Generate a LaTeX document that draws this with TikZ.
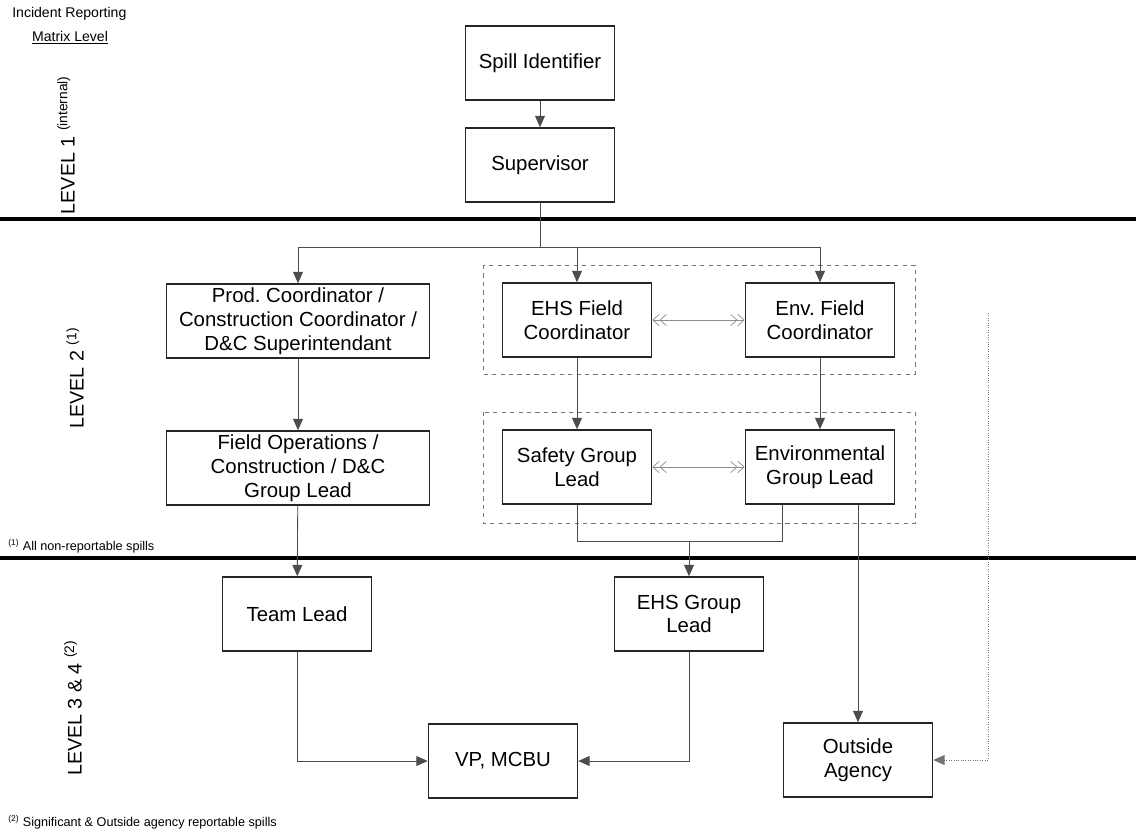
\documentclass[tikz,border=0pt]{standalone}
\usepackage{fontspec}
\setmainfont{Liberation Sans}
\usetikzlibrary{arrows.meta,calc}
\frenchspacing

\begin{document}
\begin{tikzpicture}[x=0.025cm,y=-0.025cm,
    box/.style={draw=black!85,line width=1.1pt,fill=white,align=center,
        minimum width=3.725cm,minimum height=1.85cm,inner sep=2pt,
        font=\fontsize{14.5}{17}\selectfont},
    widebox/.style={box,minimum width=6.575cm},
    lvl/.style={rotate=90,font=\fontsize{14}{16}\selectfont},
    note/.style={anchor=west,inner sep=0pt,font=\fontsize{9}{11}\selectfont},
    link/.style={draw=black!70,line width=0.6pt,-{Triangle[length=8pt,width=7pt]}},
    twoway/.style={draw=black!45,line width=0.5pt,>={Straight Barb[length=4.5pt,width=8pt]},<<->>},
    dotlink/.style={draw=black!55,line width=0.7pt,densely dotted,-{Triangle[length=8pt,width=7pt]}},
    group/.style={draw=black!55,line width=0.6pt,dash pattern=on 3pt off 3pt}]
    \useasboundingbox (0,0) rectangle (1136,837);

    \node[anchor=west,inner sep=0pt,font=\fontsize{10}{12}\selectfont] (title) at (12,14) {Incident Reporting};
    \node[inner sep=0pt,font=\fontsize{10}{12}\selectfont] (mlevel) at (70,38) {\underline{Matrix Level}};

    \node[lvl] (lvA) at (66,145) {LEVEL 1 \textsuperscript{(internal)}};
    \node[lvl] (lvB) at (75,378) {LEVEL 2 \textsuperscript{(1)}};
    \node[lvl] (lvC) at (73,708) {LEVEL 3 \& 4 \textsuperscript{(2)}};
    \node[note] (noteA) at (8,546) {\textsuperscript{(1)} All non-reportable spills};
    \node[note] (noteB) at (8,822) {\textsuperscript{(2)} Significant \& Outside agency reportable spills};

    \draw[line width=2.2pt] (0,219) -- (1136,219);
    \draw[line width=2.2pt] (0,558) -- (1136,558);

    \draw[group] (483,265) rectangle (915,374);
    \draw[group] (483,412) rectangle (915,523);

    \node[box] (spill) at (540,63) {Spill Identifier};
    \node[box] (sup) at (540,165) {Supervisor};
    \node[widebox] (prod) at (298,321) {Prod. Coordinator /\\Construction Coordinator /\\D\&C Superintendant};
    \node[widebox] (fops) at (298,468) {Field Operations /\\Construction / D\&C\\Group Lead};
    \node[box] (ehsF) at (577,320) {EHS Field\\Coordinator};
    \node[box] (envF) at (820,320) {Env. Field\\Coordinator};
    \node[box] (safL) at (577,467) {Safety Group\\Lead};
    \node[box] (envL) at (820,467) {Environmental\\Group Lead};
    \node[box] (team) at (297,614) {Team Lead};
    \node[box] (ehsL) at (689,614) {EHS Group\\Lead};
    \node[box] (vp) at (503,761) {VP, MCBU};
    \node[box] (outA) at (858,760) {Outside\\Agency};

    \coordinate (fork) at (540,247);
    \coordinate (join) at (689,541);
    \coordinate (dtop) at (988,313);

    \draw[link] (spill) -- (sup);
    \draw[draw=black!70,line width=0.6pt] (sup.south) -- (fork);
    \draw[link] (fork) -| (prod.north);
    \draw[link] (fork) -| (ehsF.north);
    \draw[link] (fork) -| (envF.north);
    \draw[link] (prod) -- (fops);
    \draw[link] (fops) -- (team);
    \draw[link] (ehsF) -- (safL);
    \draw[link] (envF) -- (envL);
    \draw[twoway] (ehsF) -- (envF);
    \draw[twoway] (safL) -- (envL);
    \draw[draw=black!70,line width=0.6pt] (safL.south) |- (join) -| ($(envL.south)!0.5!(envL.south west)$);
    \draw[link] (join) -- (ehsL.north);
    \draw[link] (envL.south -| outA.north) -- (outA.north);
    \draw[link] (team.south) |- (vp.west);
    \draw[link] (ehsL.south) |- (vp.east);
    \draw[dotlink] (dtop) |- (outA.east);
\end{tikzpicture}
\end{document}
